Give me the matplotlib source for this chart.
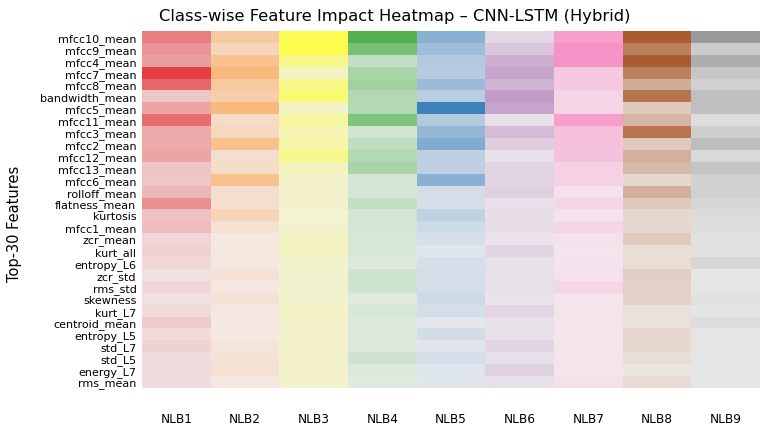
import numpy as np
import matplotlib
matplotlib.use("Agg")
import matplotlib.pyplot as plt
from matplotlib.colors import LinearSegmentedColormap

features = [
    "mfcc10_mean", "mfcc9_mean", "mfcc4_mean", "mfcc7_mean", "mfcc8_mean",
    "bandwidth_mean", "mfcc5_mean", "mfcc11_mean", "mfcc3_mean", "mfcc2_mean",
    "mfcc12_mean", "mfcc13_mean", "mfcc6_mean", "rolloff_mean", "flatness_mean",
    "kurtosis", "mfcc1_mean", "zcr_mean", "kurt_all", "entropy_L6",
    "zcr_std", "rms_std", "skewness", "kurt_L7", "centroid_mean",
    "entropy_L5", "std_L7", "std_L5", "energy_L7", "rms_mean",
]
classes = ["NLB1", "NLB2", "NLB3", "NLB4", "NLB5", "NLB6", "NLB7", "NLB8", "NLB9"]
class_colors = ["#e41a1c", "#ff7f00", "#ffff33", "#4daf4a", "#377eb8",
                "#984ea3", "#f781bf", "#a65628", "#999999"]
# faint tinted end of each class colour scale
light_ends = ["#f1e2e2", "#f4e8e0", "#f3f2d7", "#e2ece2", "#e4e8ee",
              "#ece6ec", "#f4e8ee", "#ece4de", "#eaeaea"]

# impact per class (rows follow `features`)
nlb1 = [0.50, 0.39, 0.34, 0.81, 0.61, 0.14, 0.31, 0.58, 0.28, 0.28,
        0.31, 0.15, 0.14, 0.21, 0.41, 0.16, 0.19, 0.06, 0.08, 0.06,
        0.01, 0.06, 0.01, 0.04, 0.11, 0.04, 0.08, 0.03, 0.03, 0.03]
nlb2 = [0.29, 0.17, 0.37, 0.44, 0.29, 0.24, 0.44, 0.11, 0.15, 0.37,
        0.08, 0.11, 0.37, 0.08, 0.08, 0.19, 0.06, 0.00, 0.01, 0.00,
        0.05, 0.00, 0.05, 0.00, 0.00, 0.00, 0.02, 0.04, 0.07, 0.00]
nlb3 = [0.80, 0.83, 0.47, 0.12, 0.47, 0.62, 0.09, 0.33, 0.21, 0.30,
        0.44, 0.15, 0.06, 0.06, 0.06, 0.03, 0.05, 0.12, 0.12, 0.05,
        0.05, 0.05, 0.05, 0.12, 0.06, 0.06, 0.06, 0.06, 0.06, 0.06]
nlb4 = [0.95, 0.71, 0.20, 0.38, 0.44, 0.31, 0.31, 0.65, 0.11, 0.23,
        0.31, 0.38, 0.10, 0.10, 0.21, 0.10, 0.10, 0.08, 0.08, 0.03,
        0.14, 0.13, 0.03, 0.08, 0.04, 0.04, 0.04, 0.13, 0.04, 0.03]
nlb5 = [0.51, 0.39, 0.28, 0.27, 0.42, 0.25, 0.96, 0.28, 0.46, 0.57,
        0.22, 0.22, 0.51, 0.10, 0.08, 0.21, 0.13, 0.08, 0.03, 0.08,
        0.09, 0.09, 0.13, 0.09, 0.00, 0.10, 0.02, 0.08, 0.03, 0.02]
nlb6 = [0.10, 0.21, 0.36, 0.43, 0.33, 0.49, 0.43, 0.03, 0.28, 0.16,
        0.03, 0.12, 0.12, 0.14, 0.03, 0.05, 0.05, 0.01, 0.12, 0.04,
        0.04, 0.03, 0.02, 0.12, 0.04, 0.04, 0.12, 0.04, 0.14, 0.03]
nlb7 = [0.70, 0.83, 0.83, 0.31, 0.31, 0.19, 0.19, 0.70, 0.39, 0.36,
        0.36, 0.21, 0.21, 0.07, 0.17, 0.04, 0.17, 0.06, 0.02, 0.04,
        0.06, 0.17, 0.02, 0.02, 0.02, 0.02, 0.02, 0.02, 0.02, 0.07]
nlb8 = [0.95, 0.70, 0.95, 0.70, 0.40, 0.78, 0.18, 0.32, 0.78, 0.18,
        0.36, 0.30, 0.09, 0.36, 0.18, 0.09, 0.09, 0.18, 0.04, 0.04,
        0.15, 0.13, 0.13, 0.02, 0.02, 0.08, 0.08, 0.04, 0.00, 0.06]
nlb9 = [1.00, 0.37, 0.73, 0.43, 0.30, 0.52, 0.52, 0.16, 0.33, 0.55,
        0.21, 0.45, 0.30, 0.30, 0.24, 0.18, 0.16, 0.09, 0.11, 0.24,
        0.04, 0.06, 0.09, 0.06, 0.16, 0.06, 0.06, 0.06, 0.04, 0.04]

impact = np.array([nlb1, nlb2, nlb3, nlb4, nlb5, nlb6, nlb7, nlb8, nlb9]).T

fig = plt.figure(figsize=(7.67, 4.35), dpi=100)
ax = fig.add_axes([142 / 767, 1 - 389 / 435, 618 / 767, 357 / 435])

n_rows = len(features)
for j, col in enumerate(class_colors):
    cmap = LinearSegmentedColormap.from_list(classes[j], [light_ends[j], col])
    ax.imshow(impact[:, j:j + 1], cmap=cmap, vmin=0, vmax=1, aspect="auto",
              extent=(j, j + 1, n_rows, 0))

ax.set_xlim(0, len(classes))
ax.set_ylim(n_rows, 0)
ax.set_xticks(np.arange(len(classes)) + 0.5)
ax.set_xticklabels(classes, fontsize=8.7)
ax.set_yticks(np.arange(n_rows) + 0.5)
ax.set_yticklabels(features, fontsize=8)
ax.tick_params(axis="x", length=0, pad=17)
ax.tick_params(axis="y", length=0, pad=4)
for s in ax.spines.values():
    s.set_visible(False)

fig.text(15 / 767, 1 - 224 / 435, "Top-30 Features",
         rotation=90, fontsize=10.5, ha="center", va="center")
fig.text(395 / 767, 1 - 17 / 435, "Class-wise Feature Impact Heatmap – CNN-LSTM (Hybrid)",
         fontsize=11.8, ha="center", va="center")

fig.savefig("out.png", dpi=100)
